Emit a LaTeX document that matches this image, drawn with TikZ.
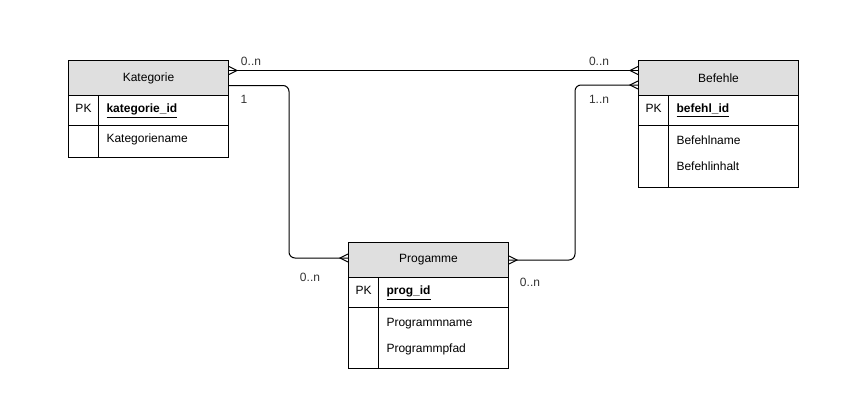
\documentclass[tikz,border=0pt]{standalone}
\usepackage{fontspec}
\setmainfont{Liberation Sans}
\usetikzlibrary{arrows.meta,positioning}

% crow's foot (many) end, drawn at the entity side
\pgfdeclarearrow{
  name = crowfoot,
  setup code = {
    \pgfarrowssettipend{0pt}
    \pgfarrowssetlineend{0pt}
    \pgfarrowssetbackend{-8pt}
    \pgfarrowsupperhullpoint{0pt}{4pt}
    \pgfarrowsupperhullpoint{-8pt}{0pt}
  },
  drawing code = {
    \pgfsetmiterjoin
    \pgfpathmoveto{\pgfqpoint{0pt}{4pt}}
    \pgfpathlineto{\pgfqpoint{-8pt}{0pt}}
    \pgfpathlineto{\pgfqpoint{0pt}{-4pt}}
    \pgfusepathqstroke
  }
}

\tikzset{
  tblhead/.style={draw,fill=gray!25,minimum width=160pt,minimum height=35pt,inner sep=0pt,anchor=north west},
  pkcell/.style={draw,minimum width=30pt,minimum height=30pt,inner sep=0pt,text depth=4pt,anchor=north west},
  keycell/.style={draw,text width=114pt,inner xsep=8pt,inner ysep=0pt,minimum height=30pt,text depth=4pt,align=left,anchor=north west},
  blankcell/.style={draw,minimum width=30pt,inner sep=0pt,anchor=north west},
  attrcell/.style={draw,text width=114pt,inner xsep=8pt,inner ysep=0pt,text depth=6pt,align=left,anchor=north west,font=\fontsize{12}{26}\selectfont},
  card/.style={inner sep=0pt,text=black!80},
  rel/.style={-crowfoot},
  relboth/.style={crowfoot-crowfoot},
}

\begin{document}
\begin{tikzpicture}[x=1pt,y=-1pt,line width=1pt,font=\fontsize{12}{14}\selectfont]
\useasboundingbox (0,0) rectangle (867,418);

% Kategorie
\node[tblhead] (kat) at (68,60) {Kategorie};
\node[pkcell] (katpk) at (68,95) {PK};
\node[keycell] (katid) at (98,95) {\underline{\textbf{kategorie\_id}}};
\node[blankcell,minimum height=32pt] (katbl) at (68,125) {};
\node[attrcell,minimum height=32pt] (katattr) at (98,125) {Kategoriename};

% Befehle
\node[tblhead] (bef) at (638,60) {Befehle};
\node[pkcell] (befpk) at (638,95) {PK};
\node[keycell] (befid) at (668,95) {\underline{\textbf{befehl\_id}}};
\node[blankcell,minimum height=62pt] (befbl) at (638,125) {};
\node[attrcell,minimum height=62pt,text depth=32pt] (befattr) at (668,125) {Befehlname\\Befehlinhalt};

% Progamme
\node[tblhead] (prog) at (348,242) {Progamme};
\node[pkcell] (progpk) at (348,277) {PK};
\node[keycell] (progid) at (378,277) {\underline{\textbf{prog\_id}}};
\node[blankcell,minimum height=61pt] (progbl) at (348,307) {};
\node[attrcell,minimum height=61pt,text depth=32pt] (progattr) at (378,307) {Programmname\\Programmpfad};

% relations
\draw[relboth] ([yshift=7.5pt]kat.east) -- ([yshift=7.5pt]bef.west);
\draw[rel,rounded corners=6pt] ([yshift=-7.5pt]kat.east) -- ++(60,0) |- ([yshift=2pt]prog.west);
\draw[relboth,rounded corners=6pt] (prog.east) -- ++(66,0) |- ([yshift=-7pt]bef.west);

% cardinalities
\node[card] (c1) at (251,61) {0..n};
\node[card] (c2) at (599,61) {0..n};
\node[card] (c3) at (244,99) {1};
\node[card] (c4) at (599,99) {1..n};
\node[card] (c5) at (310,277) {0..n};
\node[card] (c6) at (530,282) {0..n};
\end{tikzpicture}
\end{document}
